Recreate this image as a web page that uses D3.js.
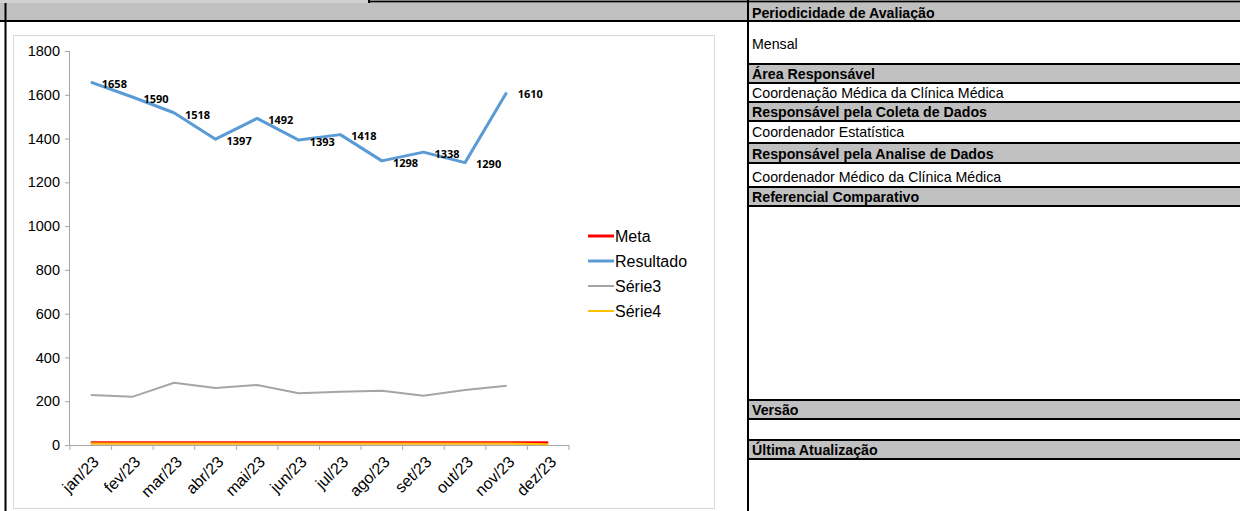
<!DOCTYPE html>
<html><head><meta charset="utf-8">
<script src="https://cdn.jsdelivr.net/npm/d3@7"></script>
<style>
html,body{margin:0;padding:0;background:#fff;}
svg{display:block;}
</style></head>
<body>
<svg id="c" width="1240" height="511"></svg>
<script>
// ---- data ----
const months = ["jan/23","fev/23","mar/23","abr/23","mai/23","jun/23","jul/23","ago/23","set/23","out/23","nov/23","dez/23"];
const meta = [10,10,10,10,10,10,10,10,10,10,10,10];
const resultado = [1658,1590,1518,1397,1492,1393,1418,1298,1338,1290,1610,null];
const serie3 = [228,220,284,260,274,236,243,248,225,251,271,null];
const serie4 = [7,7,7,7,7,7,7,7,7,7,7,3];
const yTicks = [0,200,400,600,800,1000,1200,1400,1600,1800];
const seriesNames = ["Meta","Resultado","Série3","Série4"];
const panelRows = [
  {t:"Periodicidade de Avaliação", h:true},
  {t:"Mensal", h:false},
  {t:"Área Responsável", h:true},
  {t:"Coordenação Médica da Clínica Médica", h:false},
  {t:"Responsável pela Coleta de Dados", h:true},
  {t:"Coordenador Estatística", h:false},
  {t:"Responsável pela Analise de Dados", h:true},
  {t:"Coordenador Médico da Clínica Médica", h:false},
  {t:"Referencial Comparativo", h:true},
  {t:"", h:false},
  {t:"Versão", h:true},
  {t:"", h:false},
  {t:"Última Atualização", h:true},
  {t:"", h:false}
];

// ---- layout ----
const svg = d3.select("#c");
const rowEdges = [3,21,64,83,102,121,143,163,187,206,400,419,440,459,511];
const textDy = [13,44,74,93,112,132,154,177,197,0,410,0,450,0];
const FONT = "'Liberation Sans', Arial, sans-serif";

// top strip
svg.append("rect").attr("x",0).attr("y",0).attr("width",369).attr("height",3).attr("fill","#d0d0d0");
svg.append("rect").attr("x",0).attr("y",3).attr("width",1240).attr("height",18).attr("fill","#c0c0c0");
svg.append("line").attr("x1",369).attr("x2",1240).attr("y1",1.5).attr("y2",1.5).attr("stroke","#000").attr("stroke-width",2);
svg.append("line").attr("x1",369).attr("x2",369).attr("y1",0).attr("y2",3).attr("stroke","#000").attr("stroke-width",2);
svg.append("line").attr("x1",0).attr("x2",1240).attr("y1",21).attr("y2",21).attr("stroke","#000").attr("stroke-width",2);
svg.append("line").attr("x1",5.5).attr("x2",5.5).attr("y1",3).attr("y2",511).attr("stroke","#000").attr("stroke-width",2);

// right panel
const px = 748;
panelRows.forEach((r,i)=>{
  const y0 = rowEdges[i], y1 = rowEdges[i+1];
  if (r.h) svg.append("rect").attr("x",px).attr("y",y0).attr("width",1240-px).attr("height",y1-y0).attr("fill","#c0c0c0");
  if (r.t) svg.append("text").attr("x",752).attr("y",textDy[i]).attr("dy","0.35em")
    .attr("font-family",FONT).attr("font-size",14.2)
    .attr("font-weight", r.h ? "bold" : "normal").attr("fill","#000").text(r.t);
});
rowEdges.slice(1,-1).forEach(y=>{
  svg.append("line").attr("x1",px).attr("x2",1240).attr("y1",y).attr("y2",y).attr("stroke","#000").attr("stroke-width",2);
});
svg.append("line").attr("x1",px).attr("x2",px).attr("y1",0).attr("y2",511).attr("stroke","#000").attr("stroke-width",2);

// chart frame
svg.append("rect").attr("x",13.5).attr("y",35.5).attr("width",701).attr("height",473).attr("fill","#fff").attr("stroke","#d9d9d9").attr("stroke-width",1);

const x = d3.scaleBand().domain(months).range([70,569]).padding(0);
const y = d3.scaleLinear().domain([0,1800]).range([445,51]);
const cx = d => x(d) + x.bandwidth()/2;

// y axis
const yAxis = svg.append("g").attr("transform","translate(70,0)")
  .call(d3.axisLeft(y).tickValues(yTicks).tickSize(5).tickPadding(5).tickFormat(d3.format("d")));
yAxis.select(".domain").attr("stroke","#a6a6a6").attr("d","M-0.5,445V51");
yAxis.selectAll(".tick line").attr("stroke","#a6a6a6");
yAxis.selectAll(".tick text").attr("font-family",FONT).attr("font-size",14.5).attr("fill","#000");

// x axis
const xAxis = svg.append("g").attr("transform","translate(0,445)")
  .call(d3.axisBottom(x).tickSize(0).tickFormat(""));
xAxis.select(".domain").attr("stroke","#a6a6a6").attr("d","M70,0.5H569");
svg.append("g").selectAll("line").data(months.concat(["__end"])).join("line")
  .attr("x1",(d,i)=> i<12 ? x(d) : 569).attr("x2",(d,i)=> i<12 ? x(d) : 569)
  .attr("y1",445).attr("y2",450).attr("stroke","#a6a6a6");
svg.append("g").selectAll("text").data(months).join("text")
  .attr("transform", d=>`translate(${cx(d)+5},459) rotate(-45)`)
  .attr("text-anchor","end").attr("dy","0.35em")
  .attr("font-family",FONT).attr("font-size",16).attr("fill","#000")
  .text(d=>d);

// lines
const line = d3.line().defined(d=>d.v!=null).x(d=>cx(d.m)).y(d=>y(d.v));
const toPts = arr => arr.map((v,i)=>({m:months[i], v}));
svg.append("path").datum(toPts(serie3)).attr("d",line).attr("fill","none").attr("stroke","#a5a5a5").attr("stroke-width",2);
svg.append("path").datum(toPts(resultado)).attr("d",line).attr("fill","none").attr("stroke","#5b9bd5").attr("stroke-width",3).attr("stroke-linejoin","round");
svg.append("path").datum(toPts(meta)).attr("d",line).attr("fill","none").attr("stroke","#ff0000").attr("stroke-width",3);
svg.append("path").datum(toPts(serie4)).attr("d",line).attr("fill","none").attr("stroke","#ffc000").attr("stroke-width",2);

// data labels
svg.append("g").selectAll("text").data(toPts(resultado).filter(d=>d.v!=null)).join("text")
  .attr("x",d=>cx(d.m)+11).attr("y",d=>y(d.v)+2).attr("dy","0.35em")
  .attr("font-family","'Open Sans', sans-serif").attr("font-weight","bold").attr("font-size",11).attr("fill","#000")
  .text(d=>d.v);

// legend
const legColors = ["#ff0000","#5b9bd5","#a5a5a5","#ffc000"];
const legW = [3,3,2,2];
const leg = svg.append("g");
seriesNames.forEach((n,i)=>{
  const ly = 236 + i*25;
  leg.append("line").attr("x1",588).attr("x2",614).attr("y1",ly).attr("y2",ly).attr("stroke",legColors[i]).attr("stroke-width",legW[i]);
  leg.append("text").attr("x",615).attr("y",ly).attr("dy","0.35em")
    .attr("font-family",FONT).attr("font-size",16).attr("fill","#000").text(n);
});
</script>
</body></html>
